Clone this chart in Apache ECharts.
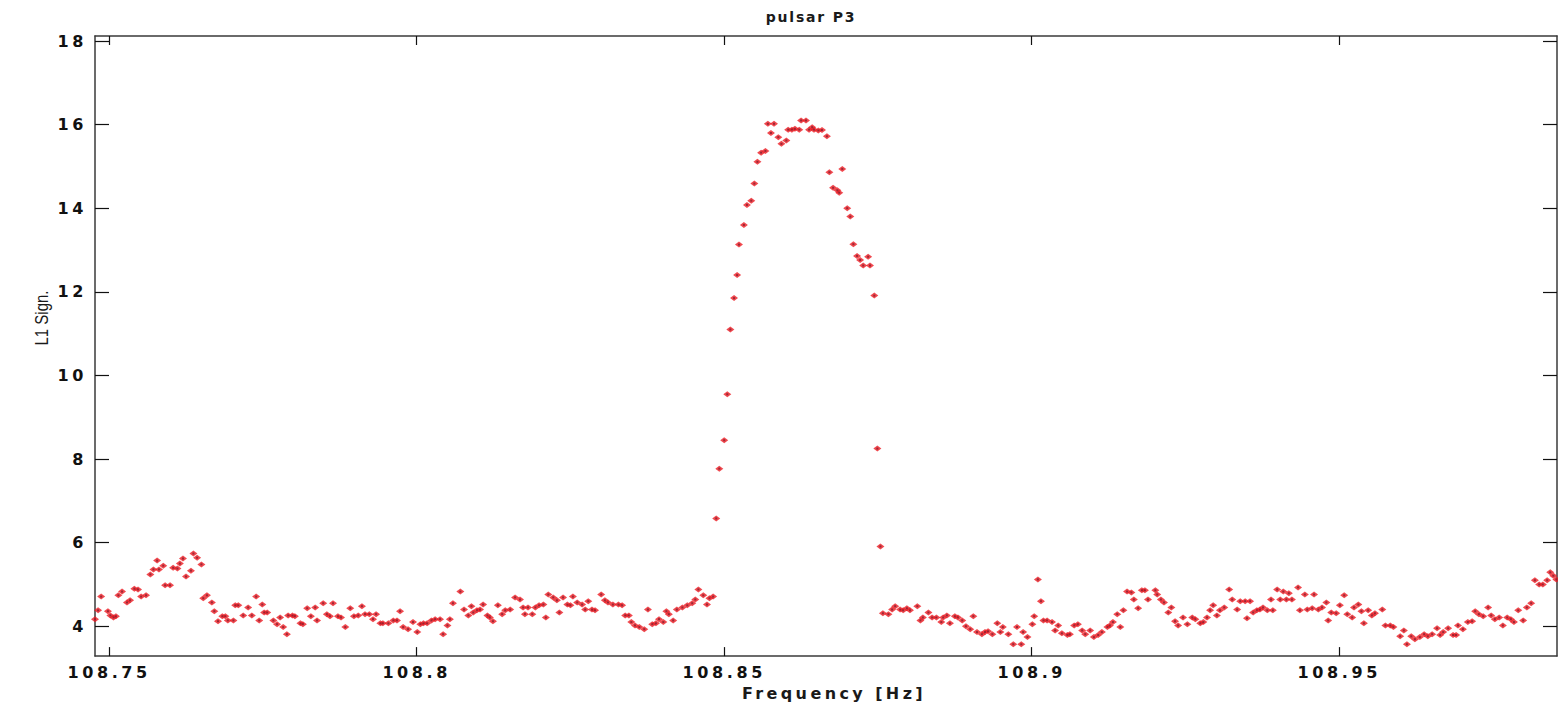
<!DOCTYPE html>
<html>
<head>
<meta charset="utf-8">
<title>pulsar P3</title>
<script src="https://cdn.jsdelivr.net/npm/echarts@6/dist/echarts.min.js"></script>
<style>
  html, body { margin: 0; padding: 0; background: #fff; }
  #chart { width: 1558px; height: 706px; }
</style>
</head>
<body>
<div id="chart"></div>
<script>
// L1 significance versus frequency [Hz, L1 Sign.]
const baselineLow = [
  [108.7477,4.17],[108.7482,4.38],[108.7487,4.71],[108.7498,4.36],[108.7502,4.26],[108.7507,4.21],
  [108.7511,4.24],[108.7515,4.74],[108.7521,4.83],[108.7529,4.57],[108.7534,4.62],[108.7541,4.90],
  [108.7547,4.88],[108.7552,4.71],[108.7560,4.74],[108.7567,5.24],[108.7572,5.36],[108.7578,5.57],
  [108.7581,5.36],[108.7588,5.45],[108.7591,4.98],[108.7599,4.98],[108.7604,5.40],[108.7611,5.38],
  [108.7615,5.50],[108.7620,5.62],[108.7625,5.19],[108.7633,5.33],[108.7637,5.74],[108.7643,5.64],
  [108.7650,5.48],[108.7653,4.67],[108.7659,4.74],[108.7667,4.57],[108.7671,4.36],[108.7677,4.12],
  [108.7684,4.24],[108.7689,4.24],[108.7693,4.14],[108.7702,4.14],[108.7705,4.50],[108.7710,4.50],
  [108.7718,4.26],[108.7726,4.45],[108.7732,4.26],[108.7739,4.71],[108.7744,4.14],[108.7749,4.52],
  [108.7752,4.33],[108.7757,4.33],[108.7767,4.14],[108.7773,4.05],[108.7778,4.21],[108.7783,3.98],
  [108.7789,3.81],[108.7791,4.26],[108.7798,4.26],[108.7802,4.24],[108.7811,4.07],[108.7815,4.05],
  [108.7822,4.43],[108.7828,4.24],[108.7835,4.45],[108.7838,4.14],[108.7848,4.55],[108.7854,4.29],
  [108.7859,4.24],[108.7864,4.55],[108.7872,4.24],[108.7877,4.21],[108.7884,3.98],[108.7892,4.43],
  [108.7898,4.24],[108.7905,4.26],[108.7911,4.48],[108.7916,4.29],[108.7923,4.29],[108.7929,4.17],
  [108.7934,4.29],[108.7941,4.07],[108.7945,4.07],[108.7954,4.07],[108.7962,4.14],[108.7968,4.14],
  [108.7973,4.36],[108.7978,3.98],[108.7986,3.93],[108.7994,4.10],[108.8001,3.86],[108.8006,4.05],
  [108.8011,4.07],[108.8017,4.07],[108.8024,4.14],[108.8030,4.17],[108.8038,4.17],[108.8043,3.81],
  [108.8050,4.02],[108.8054,4.17],[108.8059,4.55],[108.8071,4.83],[108.8077,4.40],[108.8084,4.26],
  [108.8089,4.48],[108.8092,4.33],[108.8098,4.38],[108.8103,4.40],[108.8108,4.52],[108.8115,4.26],
  [108.8119,4.21],[108.8124,4.12],[108.8132,4.50],[108.8139,4.29],[108.8144,4.38],[108.8152,4.40],
  [108.8160,4.69],[108.8168,4.64],[108.8173,4.45],[108.8176,4.29],[108.8181,4.45],[108.8188,4.29],
  [108.8193,4.45],[108.8199,4.50],[108.8206,4.52],[108.8210,4.21],[108.8214,4.76],[108.8222,4.69],
  [108.8228,4.62],[108.8232,4.33],[108.8238,4.69],[108.8245,4.52],[108.8250,4.50],[108.8254,4.71],
  [108.8261,4.57],[108.8269,4.52],[108.8274,4.40],[108.8279,4.60],[108.8285,4.40],[108.8290,4.38],
  [108.8300,4.76],[108.8306,4.62],[108.8311,4.57],[108.8319,4.52],[108.8328,4.52],[108.8334,4.50],
  [108.8339,4.26],[108.8345,4.26],[108.8349,4.10],[108.8355,4.02],[108.8362,3.98],[108.8370,3.93],
  [108.8376,4.40],[108.8383,4.05],[108.8389,4.07],[108.8394,4.17],[108.8401,4.10],[108.8406,4.36],
  [108.8410,4.29],[108.8417,4.14],[108.8423,4.40],[108.8432,4.45],[108.8440,4.50],[108.8448,4.55],
  [108.8453,4.64],[108.8458,4.88],[108.8466,4.74],[108.8472,4.52],[108.8476,4.67],[108.8482,4.71]
];

const peakPoints = [
  [108.8487,6.58],[108.8492,7.77],[108.8500,8.45],[108.8505,9.55],[108.8510,11.10],[108.8516,11.85],
  [108.8521,12.40],[108.8524,13.13],[108.8532,13.60],[108.8537,14.08],[108.8544,14.18],[108.8549,14.59],
  [108.8554,15.11],[108.8560,15.33],[108.8567,15.37],[108.8571,16.02],[108.8576,15.80],[108.8581,16.02],
  [108.8588,15.70],[108.8593,15.54],[108.8601,15.62],[108.8604,15.88],[108.8610,15.88],[108.8615,15.90],
  [108.8622,15.88],[108.8625,16.10],[108.8633,16.10],[108.8638,15.88],[108.8643,15.94],[108.8646,15.88],
  [108.8653,15.86],[108.8659,15.87],[108.8667,15.72],[108.8671,14.86],[108.8677,14.49],[108.8684,14.43],
  [108.8687,14.37],[108.8692,14.94],[108.8700,14.00],[108.8705,13.80],[108.8710,13.14],[108.8716,12.86],
  [108.8721,12.76],[108.8726,12.63],[108.8734,12.84],[108.8737,12.63],[108.8744,11.91],[108.8749,8.25],
  [108.8754,5.91]
];

const baselineHigh = [
  [108.8758,4.31],[108.8767,4.29],[108.8773,4.40],[108.8778,4.48],[108.8786,4.40],[108.8791,4.38],
  [108.8797,4.43],[108.8802,4.38],[108.8814,4.48],[108.8819,4.14],[108.8823,4.21],[108.8832,4.33],
  [108.8838,4.21],[108.8845,4.21],[108.8853,4.10],[108.8856,4.21],[108.8862,4.26],[108.8867,4.07],
  [108.8875,4.24],[108.8880,4.21],[108.8887,4.14],[108.8893,4.00],[108.8900,3.93],[108.8905,4.24],
  [108.8911,3.86],[108.8919,3.81],[108.8924,3.86],[108.8929,3.88],[108.8936,3.81],[108.8944,4.07],
  [108.8949,3.86],[108.8953,3.98],[108.8962,3.81],[108.8970,3.57],[108.8976,3.98],[108.8983,3.57],
  [108.8986,3.86],[108.8993,3.74],[108.9001,4.05],[108.9004,4.24],[108.9010,5.12],[108.9015,4.60],
  [108.9019,4.14],[108.9025,4.14],[108.9033,4.10],[108.9038,3.90],[108.9043,4.02],[108.9049,3.83],
  [108.9058,3.79],[108.9062,3.81],[108.9069,4.02],[108.9075,4.05],[108.9082,3.90],[108.9087,3.81],
  [108.9095,3.90],[108.9101,3.74],[108.9108,3.79],[108.9114,3.86],[108.9123,3.98],[108.9127,4.02],
  [108.9132,4.10],[108.9139,4.29],[108.9144,3.98],[108.9149,4.38],[108.9155,4.83],[108.9162,4.81],
  [108.9166,4.64],[108.9173,4.43],[108.9179,4.86],[108.9184,4.86],[108.9189,4.64],[108.9201,4.86],
  [108.9204,4.76],[108.9210,4.64],[108.9215,4.57],[108.9222,4.33],[108.9227,4.45],[108.9233,4.12],
  [108.9238,4.02],[108.9246,4.21],[108.9253,4.05],[108.9261,4.21],[108.9266,4.17],[108.9274,4.07],
  [108.9279,4.10],[108.9285,4.21],[108.9290,4.38],[108.9295,4.50],[108.9301,4.26],[108.9306,4.38],
  [108.9313,4.45],[108.9321,4.88],[108.9326,4.64],[108.9334,4.40],[108.9339,4.60],[108.9347,4.60],
  [108.9350,4.19],[108.9355,4.60],[108.9360,4.33],[108.9366,4.38],[108.9371,4.40],[108.9376,4.45],
  [108.9383,4.38],[108.9389,4.64],[108.9392,4.38],[108.9399,4.88],[108.9404,4.64],[108.9409,4.83],
  [108.9414,4.64],[108.9418,4.79],[108.9423,4.64],[108.9433,4.93],[108.9436,4.38],[108.9444,4.76],
  [108.9448,4.40],[108.9456,4.43],[108.9459,4.76],[108.9466,4.40],[108.9472,4.45],[108.9479,4.57],
  [108.9482,4.14],[108.9487,4.33],[108.9495,4.31],[108.9501,4.50],[108.9508,4.74],[108.9513,4.29],
  [108.9521,4.21],[108.9524,4.45],[108.9531,4.52],[108.9536,4.36],[108.9540,4.07],[108.9547,4.38],
  [108.9553,4.26],[108.9558,4.31],[108.9570,4.40],[108.9575,4.02],[108.9583,4.02],[108.9588,3.98],
  [108.9599,3.76],[108.9605,3.90],[108.9610,3.57],[108.9617,3.76],[108.9623,3.69],[108.9631,3.74],
  [108.9638,3.81],[108.9644,3.76],[108.9651,3.81],[108.9659,3.95],[108.9664,3.79],[108.9669,3.86],
  [108.9677,3.95],[108.9685,3.79],[108.9690,3.79],[108.9693,4.02],[108.9701,3.93],[108.9709,4.10],
  [108.9716,4.12],[108.9721,4.36],[108.9727,4.29],[108.9734,4.24],[108.9742,4.45],[108.9747,4.26],
  [108.9753,4.17],[108.9760,4.21],[108.9766,4.02],[108.9773,4.21],[108.9779,4.17],[108.9784,4.10],
  [108.9791,4.38],[108.9799,4.14],[108.9805,4.45],[108.9812,4.55],[108.9818,5.10],[108.9825,5.00],
  [108.9831,5.00],[108.9838,5.10],[108.9843,5.29],[108.9848,5.21],[108.9853,5.12]
];

const freqTicks = [108.75, 108.8, 108.85, 108.9, 108.95];
const signTicks = [4, 6, 8, 10, 12, 14, 16, 18];
const freqRange = [108.7477, 108.9854];
const signRange = [3.286, 18.12];

const allPoints = baselineLow.concat(peakPoints, baselineHigh);

const chart = echarts.init(document.getElementById('chart'), null, { renderer: 'svg' });

const labelFont = { fontFamily: 'DejaVu Sans', fontWeight: 'bold', fontSize: 16, color: '#111' };
const lineStyle = { color: '#3a3a3a', width: 1.5 };
const tickStyle = { color: '#111', width: 1.2 };

function xAxisCfg(position, showLabels) {
  return {
    type: 'value', position: position, min: freqRange[0], max: freqRange[1],
    splitLine: { show: false },
    axisLine: { show: true, onZero: false, lineStyle: lineStyle },
    axisTick: { show: true, inside: true, length: 9, lineStyle: tickStyle, customValues: freqTicks },
    axisLabel: Object.assign({ show: showLabels, margin: 8, customValues: freqTicks,
      formatter: v => String(v) }, labelFont)
  };
}
function yAxisCfg(position, showLabels) {
  return {
    type: 'value', position: position, min: signRange[0], max: signRange[1],
    splitLine: { show: false },
    axisLine: { show: true, onZero: false, lineStyle: lineStyle },
    axisTick: { show: true, inside: true, length: 14, lineStyle: tickStyle, customValues: signTicks },
    axisLabel: Object.assign({ show: showLabels, margin: 8, customValues: signTicks,
      formatter: v => String(v) }, labelFont)
  };
}

const bottomX = xAxisCfg('bottom', true);
bottomX.name = 'Frequency [Hz]';
bottomX.nameLocation = 'middle';
bottomX.nameGap = 25;
bottomX.nameTextStyle = { fontFamily: 'DejaVu Sans', fontSize: 16, fontWeight: 'bold', color: '#1a1a1a', padding: [0, 0, 0, 16] };

const option = {
  animation: false,
  backgroundColor: '#fff',
  title: {
    text: 'pulsar P3', left: 806, top: 5, textAlign: 'center',
    textStyle: { fontFamily: 'DejaVu Sans', fontSize: 14, fontWeight: 'bold', color: '#1a1a1a' }
  },
  grid: { left: 95, right: 1, top: 36, bottom: 47, containLabel: false },
  xAxis: [bottomX, xAxisCfg('top', false)],
  yAxis: [yAxisCfg('left', true), yAxisCfg('right', false)],
  graphic: [{
    type: 'text', x: 42, y: 318, rotation: Math.PI / 2, scaleY: 1.2,
    style: {
      text: 'L1 Sign.', fill: '#1a1a1a', align: 'center', verticalAlign: 'middle',
      font: '15px "Liberation Sans"'
    }
  }],
  series: [
    {
      name: 'L1 Sign.', type: 'scatter', data: allPoints, xAxisIndex: 0, yAxisIndex: 0,
      symbol: 'diamond', symbolSize: [8, 6],
      itemStyle: { color: '#ec1a22' }, silent: true
    },
    {
      name: 'L1 Sign. core', type: 'scatter', data: allPoints, xAxisIndex: 0, yAxisIndex: 0,
      symbol: 'rect', symbolSize: [2, 2],
      itemStyle: { color: '#8a1e2e' }, silent: true
    }
  ]
};

chart.setOption(option);

// Wide glyph spacing for the axis and title text
function spaceText() {
  const texts = document.querySelectorAll('#chart svg text');
  texts.forEach(t => {
    const s = t.textContent;
    let sp = 0;
    if (s === 'pulsar P3') sp = 1.8;
    else if (s === 'Frequency [Hz]') sp = 3.4;
    else if (/^[0-9.]+$/.test(s)) sp = 3.6;
    if (sp) t.setAttribute('letter-spacing', sp + 'px');
  });
}
chart.on('finished', spaceText);
spaceText();
</script>
</body>
</html>
